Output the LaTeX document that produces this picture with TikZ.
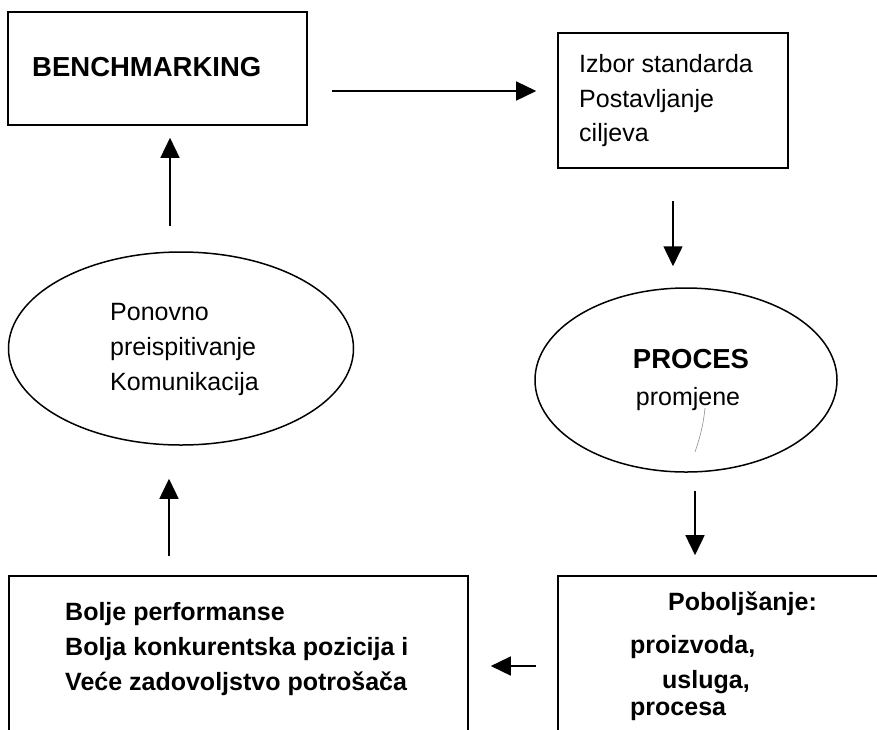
\documentclass[tikz,border=0pt]{standalone}
\usepackage{fontspec}
\setmainfont{Liberation Sans}
\usetikzlibrary{arrows.meta,shapes.geometric,calc}
\begin{document}
\begin{tikzpicture}[x=1pt,y=-1pt,
  box/.style={draw, line width=1.6pt, inner sep=0pt},
  oval/.style={draw, ellipse, line width=1.5pt, inner sep=0pt},
  arr/.style={line width=1.5pt, -{Triangle[length=20pt,width=19pt]}},
  txt/.style={inner sep=0pt, anchor=base west, font=\fontsize{25}{30}\selectfont},
  btxt/.style={inner sep=0pt, anchor=base west, font=\fontsize{25}{30}\selectfont\bfseries},
  big/.style={inner sep=0pt, font=\fontsize{27.5}{30}\selectfont\bfseries}]
\useasboundingbox (0,0) rectangle (877,729);
\fill[white] (0,0) rectangle (877,729);
\clip (0,0) rectangle (877,729);

% shapes
\node[box, minimum width=299pt, minimum height=113pt] (bench) at (157.5,68.5) {};
\node[box, minimum width=230pt, minimum height=135pt] (izbor) at (673,100.5) {};
\node[oval, minimum width=345pt, minimum height=193pt] (pon) at (181,348.5) {};
\node[oval, minimum width=302pt, minimum height=184pt] (proc) at (686,380) {};
\node[box, minimum width=459pt, minimum height=240pt] (bot) at (238.5,696) {};
\node[box, minimum width=360pt, minimum height=240pt] (pob) at (738,696) {};

% texts
\node[big, anchor=base west] (tbench) at (32,76.5) {BENCHMARKING};
\node[txt] (ti1) at (579,72) {Izbor standarda};
\node[txt] (ti2) at (579,107) {Postavljanje};
\node[txt] (ti3) at (579,141) {ciljeva};
\node[txt] (tp1) at (110,320) {Ponovno};
\node[txt] (tp2) at (110,355) {preispitivanje};
\node[txt] (tp3) at (110,390) {Komunikacija};
\node[big, anchor=base] (tproc) at (691,368) {PROCES};
\node[txt, anchor=base] (tprom) at (688,405) {promjene};
\node[btxt] (tb1) at (65,620) {Bolje performanse};
\node[btxt] (tb2) at (65,655) {Bolja konkurentska pozicija i};
\node[btxt] (tb3) at (65,690) {Veće zadovoljstvo potrošača};
\node[btxt] (tq1) at (668,610) {Poboljšanje:};
\node[btxt] (tq2) at (630,653) {proizvoda,};
\node[btxt] (tq3) at (662,688) {usluga,};
\node[btxt] (tq4) at (630,715) {procesa};

% stray pen mark inside the ellipse
\draw[black!45, line width=0.6pt] (705,408) .. controls (703,428) and (699,440) .. (695,452);

% connectors
\draw[arr, shorten <=24pt, shorten >=21pt] ([yshift=-22.5pt]bench.east) -- ([yshift=-22.5pt]bench.east -| izbor.west);
\draw[arr, shorten <=32pt, shorten >=21pt] (izbor.south) -- (izbor.south |- proc.north);
\draw[arr, shorten <=18pt, shorten >=20pt] ([xshift=9pt]proc.south) -- ([xshift=9pt]proc.south |- pob.north);
\draw[arr, shorten <=21pt, shorten >=22pt] ([yshift=30pt]pob.west) -- ([yshift=30pt]pob.west -| bot.east);
\draw[arr, shorten <=19pt, shorten >=33pt] ([xshift=-69.5pt]bot.north) -- ([xshift=-69.5pt]bot.north |- pon.south);
\draw[arr, shorten <=25pt, shorten >=12pt] ([xshift=-11pt]pon.north) -- ([xshift=-11pt]pon.north |- bench.south);
\end{tikzpicture}
\end{document}
